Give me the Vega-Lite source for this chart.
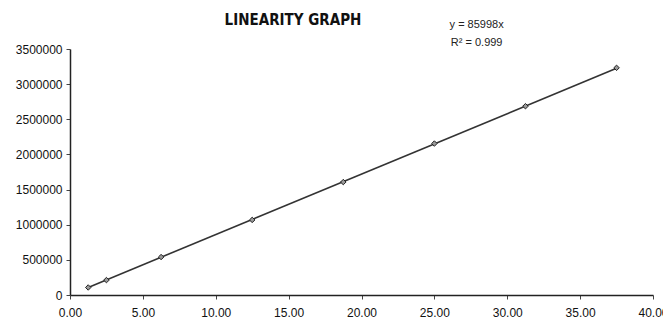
{
  "$schema": "https://vega.github.io/schema/vega-lite/v6.json",
  "autosize": "none",
  "width": 583,
  "height": 246,
  "padding": {"left": 70, "top": 49, "right": 10, "bottom": 28},
  "background": "white",
  "config": {
    "view": {"stroke": null},
    "font": "Liberation Sans",
    "axis": {
      "grid": false,
      "domainColor": "#222",
      "domainWidth": 1.5,
      "tickColor": "#444",
      "tickSize": 4,
      "labelFont": "Liberation Sans",
      "labelFontSize": 12,
      "labelColor": "#111",
      "labelOverlap": false,
      "labelFlush": false,
      "labelBound": false,
      "title": null
    },
    "axisX": {"values": [0, 5, 10, 15, 20, 25, 30, 35, 40], "format": ".2f", "labelPadding": 8},
    "axisY": {"values": [0, 500000, 1000000, 1500000, 2000000, 2500000, 3000000, 3500000], "format": "d", "labelPadding": 4}
  },
  "datasets": {
    "points": [
      {"conc": 1.25, "area": 107000},
      {"conc": 2.5, "area": 212000},
      {"conc": 6.25, "area": 540000},
      {"conc": 12.5, "area": 1068000},
      {"conc": 18.75, "area": 1607000},
      {"conc": 25.0, "area": 2155000},
      {"conc": 31.25, "area": 2686000},
      {"conc": 37.5, "area": 3232000}
    ],
    "trend": [
      {"conc": 1.25, "area": 107498},
      {"conc": 37.5, "area": 3224925}
    ],
    "eq": [
      {"label": "y = 85998x\nR² = 0.999"}
    ],
    "ttl": [
      {"label": "LINEARITY GRAPH"}
    ]
  },
  "layer": [
    {
      "data": {"name": "trend"},
      "mark": {"type": "line", "color": "#333", "strokeWidth": 1.6},
      "encoding": {
        "x": {
          "field": "conc", "type": "quantitative",
          "scale": {"domain": [0, 40], "nice": false},
          "axis": {"values": [0, 5, 10, 15, 20, 25, 30, 35, 40], "format": ".2f", "title": null}
        },
        "y": {
          "field": "area", "type": "quantitative",
          "scale": {"domain": [0, 3500000], "nice": false},
          "axis": {"values": [0, 500000, 1000000, 1500000, 2000000, 2500000, 3000000, 3500000], "format": "d", "title": null}
        }
      }
    },
    {
      "data": {"name": "points"},
      "mark": {"type": "point", "shape": "diamond", "size": 30, "filled": true, "fill": "#999", "stroke": "#222", "strokeWidth": 1, "opacity": 1},
      "encoding": {
        "x": {"field": "conc", "type": "quantitative", "axis": {"values": [0, 5, 10, 15, 20, 25, 30, 35, 40], "format": ".2f", "title": null}},
        "y": {"field": "area", "type": "quantitative", "axis": {"values": [0, 500000, 1000000, 1500000, 2000000, 2500000, 3000000, 3500000], "format": "d", "title": null}}
      }
    },
    {
      "data": {"name": "eq"},
      "mark": {"type": "text", "font": "Liberation Sans", "fontSize": 11, "color": "#222", "lineBreak": "\n", "lineHeight": 18, "align": "center", "baseline": "middle", "clip": false},
      "encoding": {
        "x": {"datum": 27.9, "type": "quantitative", "axis": {"values": [0, 5, 10, 15, 20, 25, 30, 35, 40], "format": ".2f", "title": null}},
        "y": {"datum": 3840000, "type": "quantitative", "axis": {"values": [0, 500000, 1000000, 1500000, 2000000, 2500000, 3000000, 3500000], "format": "d", "title": null}},
        "text": {"field": "label"}
      }
    },
    {
      "data": {"name": "ttl"},
      "mark": {"type": "text", "font": "DejaVu Sans Condensed", "fontSize": 15, "fontWeight": "bold", "color": "#111", "align": "center", "baseline": "middle", "clip": false},
      "encoding": {
        "x": {"datum": 15.3, "type": "quantitative", "axis": {"values": [0, 5, 10, 15, 20, 25, 30, 35, 40], "format": ".2f", "title": null}},
        "y": {"datum": 3910000, "type": "quantitative", "axis": {"values": [0, 500000, 1000000, 1500000, 2000000, 2500000, 3000000, 3500000], "format": "d", "title": null}},
        "text": {"field": "label"}
      }
    }
  ]
}
